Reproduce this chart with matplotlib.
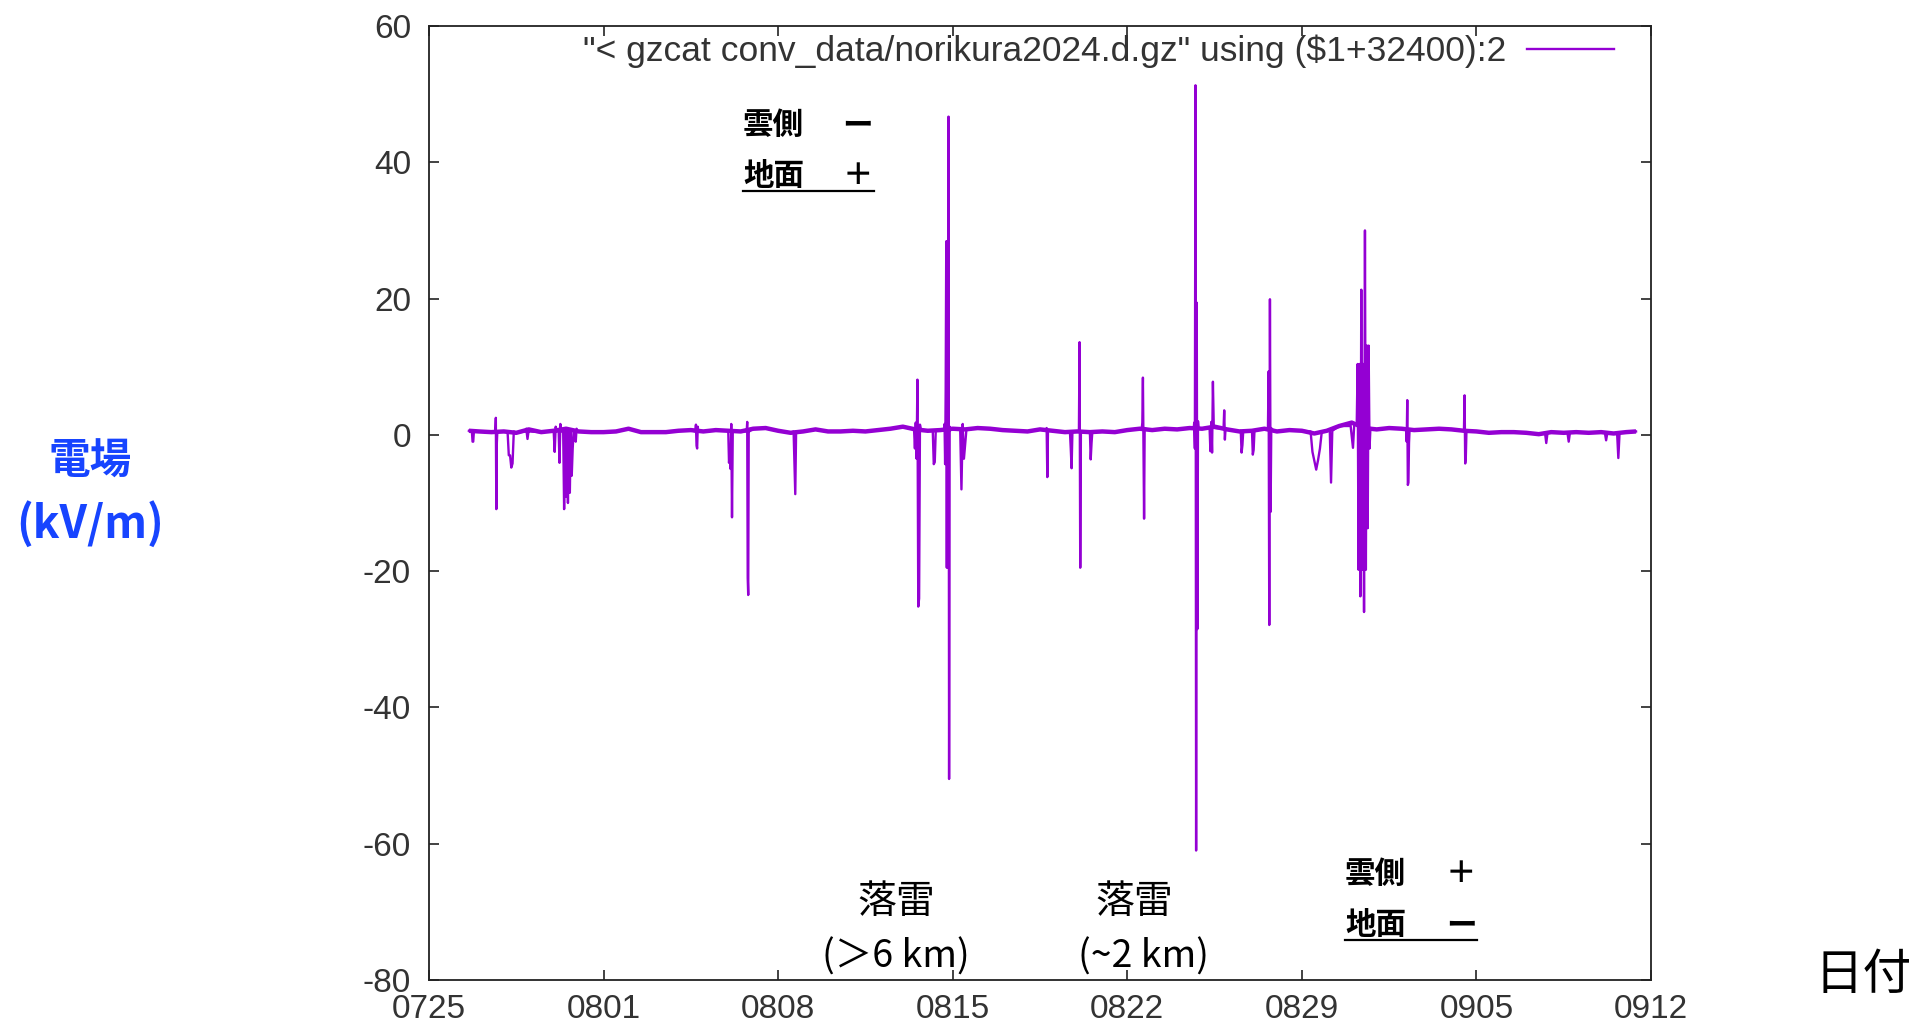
import numpy as np
import matplotlib
matplotlib.use("Agg")
import matplotlib.pyplot as plt
from matplotlib.lines import Line2D

plt.rcParams['font.family'] = ['Liberation Sans', 'DejaVu Sans']
plt.rcParams['axes.unicode_minus'] = False
JP = ['Noto Sans CJK JP', 'DejaVu Sans']

# x axis: days since 07/25 (JST)
tick_days = [0, 7, 14, 21, 28, 35, 42, 49]
tick_labels = ['0725', '0801', '0808', '0815', '0822', '0829', '0905', '0912']
y_ticks = [-80, -60, -40, -20, 0, 20, 40, 60]

# slowly varying background field (kV/m), read every half day
base_day = [1.6, 2.0, 2.5, 3.0, 3.5, 4.0, 4.5, 5.0, 5.5, 6.0, 6.5, 7.0, 7.5, 8.0,
            8.5, 9.0, 9.5, 10.0, 10.5, 11.0, 11.5, 12.0, 12.5, 13.0, 13.5, 14.0,
            14.5, 15.0, 15.5, 16.0, 16.5, 17.0, 17.5, 18.0, 18.5, 19.0, 19.5, 20.0,
            20.5, 21.0, 21.5, 22.0, 22.5, 23.0, 23.5, 24.0, 24.5, 25.0, 25.5, 26.0,
            26.5, 27.0, 27.5, 28.0, 28.5, 29.0, 29.5, 30.0, 30.5, 31.0, 31.5, 32.0,
            32.5, 33.0, 33.5, 34.0, 34.5, 35.0, 35.5, 36.0, 36.5, 37.0, 37.5, 38.0,
            38.5, 39.0, 39.5, 40.0, 40.5, 41.0, 41.5, 42.0, 42.5, 43.0, 43.5, 44.0,
            44.5, 45.0, 45.5, 46.0, 46.5, 47.0, 47.5, 48.0, 48.4]
base_val = [0.6, 0.5, 0.4, 0.5, 0.3, 0.8, 0.4, 0.6, 0.9, 0.5, 0.4, 0.4, 0.5, 0.9,
            0.4, 0.4, 0.4, 0.6, 0.7, 0.5, 0.7, 0.6, 0.5, 0.9, 1.0, 0.6,
            0.3, 0.5, 0.8, 0.5, 0.5, 0.6, 0.5, 0.7, 0.9, 1.2, 0.8, 0.6,
            0.7, 0.9, 0.8, 1.0, 0.9, 0.7, 0.6, 0.5, 0.8, 0.6, 0.4, 0.5,
            0.4, 0.5, 0.4, 0.7, 0.9, 0.7, 0.9, 0.8, 1.0, 0.9, 1.2, 0.8,
            0.5, 0.6, 0.9, 0.5, 0.7, 0.6, 0.2, 0.6, 1.3, 1.8, 1.0, 0.8,
            1.0, 0.9, 0.7, 0.8, 0.9, 0.8, 0.6, 0.5, 0.3, 0.4, 0.4, 0.3,
            0.1, 0.4, 0.3, 0.4, 0.3, 0.4, 0.2, 0.4, 0.5]

# disturbances (thunderstorms): start day, end day, readings in between
ev_start = [1.72, 2.66, 3.15, 3.85, 5.00, 5.20, 5.38, 5.85, 10.68, 12.00, 12.74,
            14.62, 19.45, 20.20, 20.65, 21.30, 24.74, 25.70, 26.06, 26.50, 28.58,
            30.66, 31.30, 31.86, 32.55, 33.00, 33.64, 35.35, 36.12, 36.90, 37.20,
            39.18, 41.50, 44.75, 45.65, 47.15, 47.64]
ev_end = [1.80, 2.74, 3.40, 4.00, 5.12, 5.30, 5.80, 5.95, 10.80, 12.18, 12.84,
          14.72, 19.72, 20.32, 20.90, 21.55, 24.82, 25.80, 26.14, 26.60, 28.72,
          30.86, 31.50, 31.94, 32.65, 33.10, 33.80, 35.80, 36.22, 37.10, 37.75,
          39.32, 41.60, 44.85, 45.75, 47.25, 47.74]
ev_vals = [
    [0.5, -1.0, -1.0, 0.5],
    [0.5, 2.5, -10.9, -1.2, 0.5],
    [0.5, -3.0, -3.0, -4.8, -4.2, 0.5],
    [0.5, 0.9, -0.6, 0.5],
    [0.5, -2.5, 1.2, 0.5],
    [0.5, -4.1, 1.6, 0.5],
    [0.6, -10.9, 1.0, -9.1, 0.8, -10.0, 0.7, -8.5, 0.7, -6.0, -2.0, 0.5],
    [0.5, -1.0, 0.9, 0.5],
    [0.5, 1.5, -1.6, -2.0, 1.2, 0.5],
    [0.5, -4.1, -2.8, -5.0, 1.6, -12.1, 0.5],
    [0.5, 1.9, -21.0, -23.5, 0.8, 0.5],
    [0.5, -4.0, -8.7, 0.5],
    [0.8, -2.0, 1.8, -3.5, 8.1, -25.2, -24.0, 1.5, 0.8],
    [0.6, -4.3, -4.0, 0.6],
    [0.7, 1.6, -4.3, 6.6, 28.4, -19.5, 28.4, -19.5, 46.7, -50.5, 1.2, 0.7],
    [0.8, -8.0, 1.6, -3.5, 1.2, 0.8],
    [0.6, 1.0, -6.2, 0.6],
    [0.5, -2.0, -4.9, 0.5],
    [0.5, 13.6, -19.5, 0.5],
    [0.5, -3.6, -1.2, 0.5],
    [0.9, 1.8, 8.4, -1.3, -12.3, 1.0, 0.9],
    [0.9, 1.8, -2.0, 51.3, -61.0, 19.4, -28.5, 2.0, 0.9],
    [1.0, -2.4, 1.9, -2.6, 7.8, 1.4, 1.0],
    [0.9, 3.6, -0.7, 0.9],
    [0.6, -2.6, -1.5, 0.6],
    [0.6, -2.9, -2.2, 0.6],
    [0.8, 9.3, -27.9, 19.9, -11.3, 1.0, 0.8],
    [0.5, -2.5, -4.4, -5.1, -3.7, -2.0, 0.5],
    [0.6, -7.0, 0.6],
    [1.3, 1.5, 2.7, -1.9, 1.5],
    [1.5, 10.4, -19.8, 10.4, -23.7, 21.3, -19.8, 10.4, -26.0, 30.0, -19.8,
     13.1, -13.7, 13.1, -2.0, 1.0],
    [0.9, -1.0, 5.1, -7.35, -7.0, -1.2, 0.8],
    [0.7, 5.8, -4.2, -3.2, 0.6],
    [0.3, -1.2, 0.3],
    [0.3, -1.0, 0.3],
    [0.3, -0.8, 0.3],
    [0.3, -3.4, 0.3],
]

# merge background and events into one time series
t = list(base_day)
v = list(base_val)
for s, e, vals in zip(ev_start, ev_end, ev_vals):
    t += list(np.linspace(s, e, len(vals)))
    v += vals
order = np.argsort(t, kind='stable')
t = np.array(t)[order]
v = np.array(v)[order]
# drop background samples that fall inside an event window
keep = np.ones(len(t), bool)
isbase = np.isin(t, base_day)
for s, e in zip(ev_start, ev_end):
    keep &= ~((t > s) & (t < e) & isbase)
t, v = t[keep], v[keep]

W, H = 1928, 1027
fig = plt.figure(figsize=(W / 100, H / 100), dpi=100)
ax = fig.add_axes([429 / W, 1 - 980 / H, 1222 / W, 954 / H])

col = '#9400d3'
# background noise band is thicker than the spikes
ax.plot(base_day, base_val, color=col, lw=3.2, solid_capstyle='butt')
ax.plot(t, v, color=col, lw=1.7,
        label='"< gzcat conv_data/norikura2024.d.gz" using ($1+32400):2')

ax.set_xlim(0, 49)
ax.set_ylim(-80, 60)
ax.set_xticks(tick_days)
ax.set_xticklabels(tick_labels)
ax.set_yticks(y_ticks)
ax.tick_params(direction='in', top=True, right=True, length=7, width=1.2,
               labelsize=24, colors='#222222', labelcolor='#333333')
ax.tick_params(axis='y', pad=13)
ax.tick_params(axis='x', pad=10)
for sp in ax.spines.values():
    sp.set_linewidth(1.3)
    sp.set_color('#222222')

leg = ax.legend(loc='upper right', bbox_to_anchor=((1614 - 429) / 1222, (980 - 35) / 954),
                frameon=False, markerfirst=False, fontsize=25.5, handlelength=2.45,
                handletextpad=0.6, borderpad=0, borderaxespad=0)
for txt in leg.get_texts():
    txt.set_color('#333333')


def fx(px):
    return px / W


def fy(py):
    return 1 - py / H


# axis titles
fig.text(fx(90), fy(462), '電場', family=JP, fontsize=30, fontweight='bold',
         color='#1744ff', ha='center', va='center')
fig.text(fx(90), fy(524), '(kV/m)', family=JP, fontsize=32, fontweight='bold',
         color='#1744ff', ha='center', va='center')
fig.text(fx(1863), fy(975), '日付', family=JP, fontsize=35, color='black',
         ha='center', va='center')

# polarity notes
bold = dict(family=JP, fontsize=22, fontweight='bold', va='center')
fig.text(fx(743), fy(125), '雲側', ha='left', **bold)
fig.text(fx(857), fy(125), 'ー', ha='center', **bold)
fig.text(fx(743), fy(176), '地面', ha='left', **bold)
fig.text(fx(858), fy(176), '＋', ha='center', **bold)
fig.add_artist(Line2D([fx(743), fx(874)], [fy(191), fy(191)], color='black', lw=1.6))

fig.text(fx(1345), fy(874), '雲側', ha='left', **bold)
fig.text(fx(1461), fy(874), '＋', ha='center', **bold)
fig.text(fx(1345), fy(925), '地面', ha='left', **bold)
fig.text(fx(1461), fy(925), 'ー', ha='center', **bold)
fig.add_artist(Line2D([fx(1345), fx(1477)], [fy(940), fy(940)], color='black', lw=1.6))

# lightning notes
fig.text(fx(896), fy(902), '落雷', family=JP, fontsize=28, ha='center', va='center')
fig.text(fx(896), fy(957), '(＞6 km)', family=JP, fontsize=27, ha='center', va='center')
fig.text(fx(1134), fy(902), '落雷', family=JP, fontsize=28, ha='center', va='center')
fig.text(fx(1144), fy(957), '(~2 km)', family=JP, fontsize=27, ha='center', va='center')

fig.savefig('out.png', dpi=100, facecolor='white')
